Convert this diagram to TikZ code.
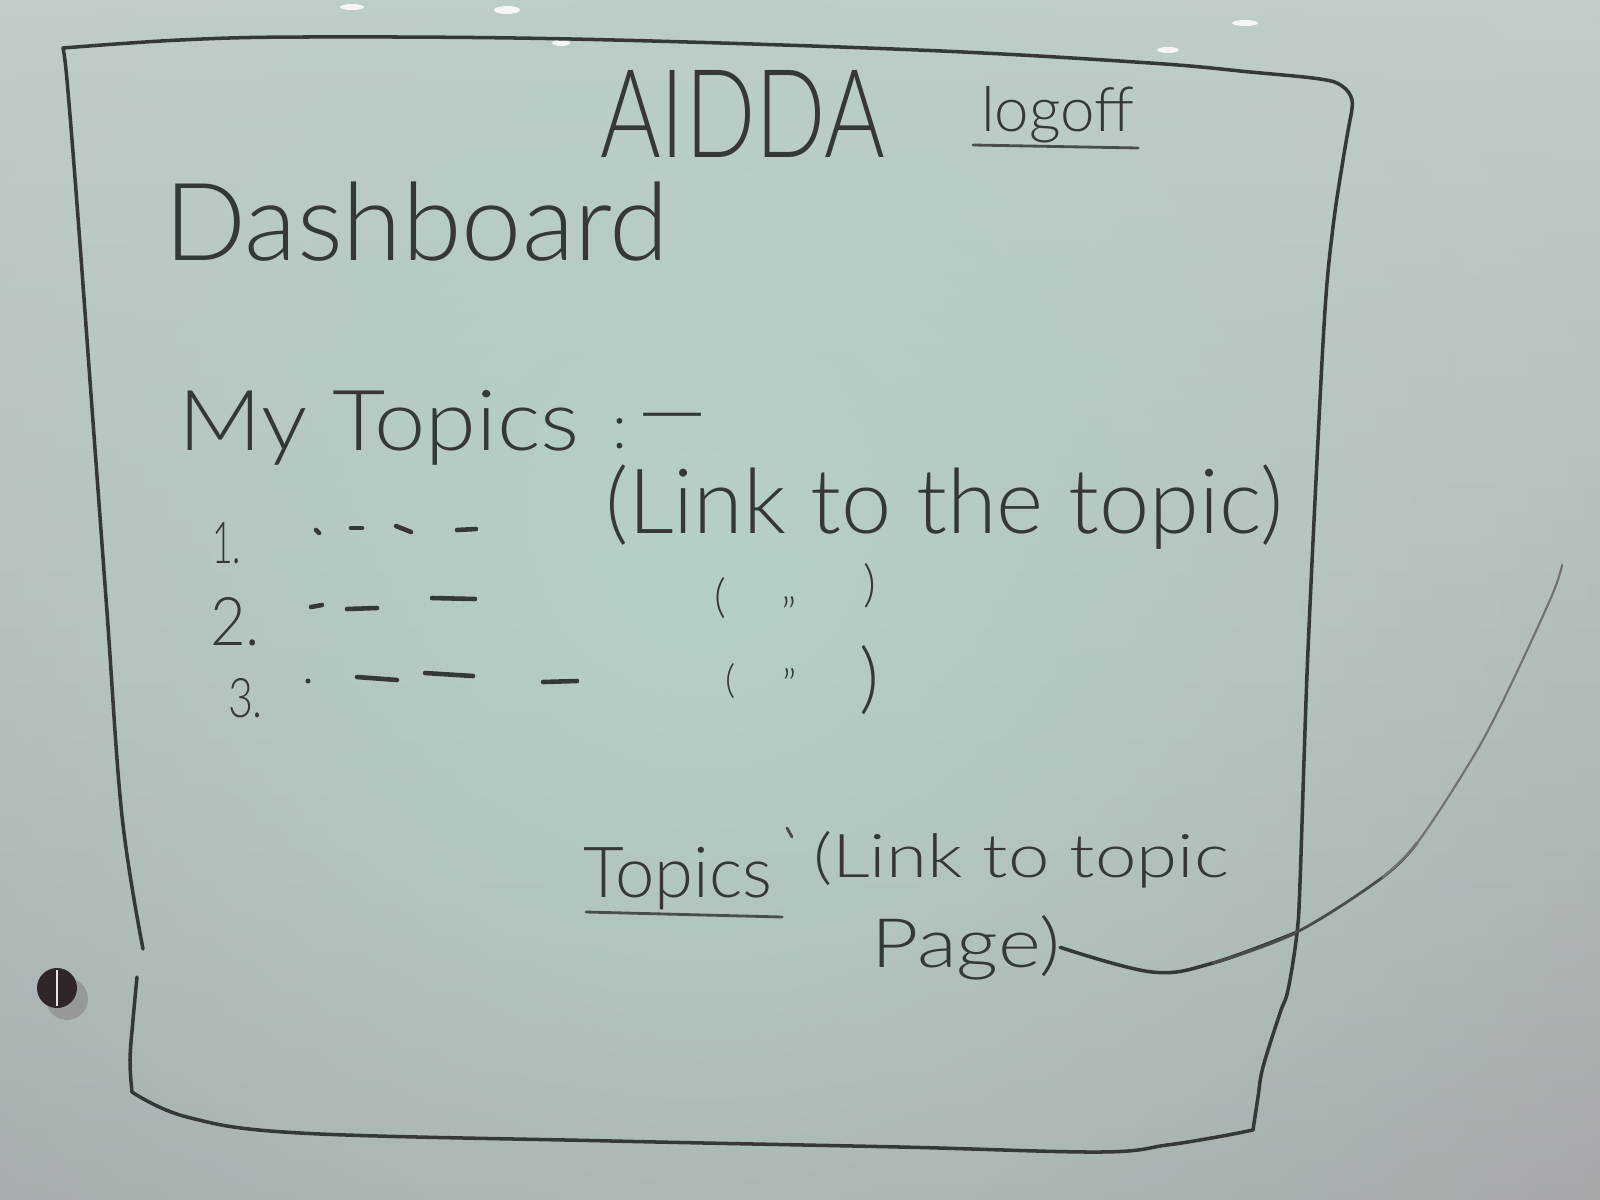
\documentclass[tikz,border=0pt]{standalone}
\usepackage{fontspec}
\setmainfont{Lato Light}
\usetikzlibrary{fadings}
\definecolor{inkc}{RGB}{52,56,57}
\definecolor{boardtop}{RGB}{198,203,203}
\definecolor{boardbot}{RGB}{162,160,166}
\definecolor{boardglow}{RGB}{182,207,201}
\definecolor{screwc}{RGB}{48,38,42}
\tikzfading[name=boardfade, inner color=transparent!0, outer color=transparent!100]
\tikzset{
  ink/.style={inner sep=0pt, outer sep=0pt, text=inkc, anchor=base west},
  inkmark/.style={inner sep=0pt, outer sep=0pt, text=inkc},
  pen/.style={draw=inkc, line width=1.0pt, line cap=round, line join=round},
  penthick/.style={draw=inkc, line width=1.3pt, line cap=round},
  penthin/.style={draw=inkc!80!boardbot, line width=0.8pt, line cap=round},
  pentrace/.style={draw=inkc!45!boardbot, line width=0.6pt, line cap=round},
  lamp/.style={fill=white, opacity=0.85},
}
\begin{document}
\begin{tikzpicture}[x=0.01cm, y=-0.01cm]
\useasboundingbox (0,0) rectangle (1600,1200);

% whiteboard surface
\shade[top color=boardtop, bottom color=boardbot] (0,0) rectangle (1600,1200);
\fill[boardglow, path fading=boardfade] (700,560) circle (1300);

% ceiling lights reflected on the board
\fill[lamp] (352,7) ellipse [x radius=12, y radius=3];
\fill[lamp] (507,10) ellipse [x radius=13, y radius=4];
\fill[lamp] (561,43) ellipse [x radius=9, y radius=3];
\fill[lamp] (1245,23) ellipse [x radius=13, y radius=3];
\fill[lamp] (1168,50) ellipse [x radius=11, y radius=3];

% mounting screw
\fill[gray!60!boardbot, opacity=0.7] (67,999) circle (21);
\fill[screwc] (57,988) circle (20);
\draw[white!80!gray, line width=0.5pt] (57,970) -- (57,1006);

% page frame
\draw[pen] plot[smooth, tension=0.6] coordinates {(143,949) (122,816) (107,612) (92,408) (77,204) (67,80) (63,48)}
  -- plot[smooth, tension=0.6] coordinates {(63,48) (180,40) (306,37) (571,39) (918,50) (1150,63) (1250,72) (1320,79) (1342,86) (1352,100) (1350,120)}
  -- plot[smooth, tension=0.6] coordinates {(1350,120) (1343,160) (1333,227) (1325,310) (1316,480) (1308,650) (1304,760) (1300,883) (1297,933) (1288,990) (1280,1013) (1263,1067) (1258,1097) (1253,1130)}
  -- plot[smooth, tension=0.6] coordinates {(1253,1130) (1217,1137) (1167,1145) (1100,1152) (900,1147) (612,1141) (300,1133) (187,1117) (132,1092)}
  -- plot[smooth, tension=0.6] coordinates {(132,1092) (130,1060) (133,1020) (137,977)};

% header
\node[ink] (title) at (600,157) {\resizebox{2.85cm}{0.87cm}{AIDDA}};
\node[ink] (logoff) at (981,132) {\resizebox{1.53cm}{0.45cm}{logoff}};
\draw[penthin] ([shift={(-8,13)}]logoff.base west) -- ([shift={(4,16)}]logoff.base east);

\node[ink] (board) at (164,260) {\resizebox{5.05cm}{!}{Dashboard}};

% my topics
\node[ink] (mytopics) at (179,450) {\resizebox{4.0cm}{0.6cm}{My Topics}};
\node[ink, anchor=base] (colon) at (620,448) {\resizebox{!}{0.3cm}{:}};
\node[inkmark] (rule) at (673,427) {\resizebox{0.7cm}{!}{—}};
\node[ink] (linktopic) at (605,533) {\resizebox{6.78cm}{!}{(Link to the topic)}};

\node[ink] (n1) at (212,563) {\resizebox{0.29cm}{0.41cm}{1.}};
\node[ink] (n2) at (210,645) {\resizebox{0.5cm}{0.48cm}{2.}};
\node[ink] (n3) at (228,717) {\resizebox{0.35cm}{0.39cm}{3.}};

% placeholder titles
\draw[penthick] (316,530) -- (319,533);
\draw[penthick] (351,528) -- (362,528);
\draw[penthick] (396,526) -- (411,532);
\draw[penthick] (457,530) -- (476,529);
\draw[penthick] (311,607) -- (322,605);
\draw[penthick] (347,609) -- (377,608);
\draw[penthick] (432,598) -- (475,599);
\fill[inkc] (308,681) circle (2.5);
\draw[penthick] (357,677) -- (397,680);
\draw[penthick] (425,673) -- (473,676);
\draw[penthick] (543,682) -- (577,681);

% ditto marks
\node[inkmark] (lp2) at (720,598) {\resizebox{!}{0.35cm}{(}};
\node[inkmark, anchor=north] (dq2) at (789,596) {\resizebox{!}{0.34cm}{"}};
\node[inkmark] (rp2) at (870,586) {\resizebox{!}{0.38cm}{)}};
\node[inkmark] (lp3) at (731,681) {\resizebox{!}{0.30cm}{(}};
\node[inkmark, anchor=north] (dq3) at (790,668) {\resizebox{!}{0.32cm}{"}};
\node[inkmark] (rp3) at (869,680) {\resizebox{!}{0.59cm}{)}};

% topics link
\node[ink] (topics) at (583,897) {\resizebox{1.89cm}{!}{Topics}};
\draw[penthin] ([shift={(3,15)}]topics.base west) -- ([shift={(10,20)}]topics.base east);
\draw[penthin] (787,828) -- (792,837);
\node[ink] (linkpage) at (813,877) {\resizebox{4.16cm}{0.46cm}{(Link to topic}};
\node[ink] (page) at (871,967) {\resizebox{1.89cm}{0.52cm}{Page)}};

% stroke running off the page
\coordinate (k1) at (1152,972);
\coordinate (k2) at (1213,963);
\coordinate (k3) at (1295,933);
\coordinate (k4) at (1383,877);
\coordinate (k5) at (1417,843);
\coordinate (k6) at (1467,767);
\coordinate (k7) at (1500,707);
\coordinate (k8) at (1550,600);
\coordinate (tail) at (1562,565);
\draw[pen] plot[smooth, tension=0.6] coordinates {(page.east) (k1) (k2) (k3)};
\draw[penthin] plot[smooth, tension=0.6] coordinates {(k2) (k3) (k4) (k5)};
\draw[pentrace] plot[smooth, tension=0.6] coordinates {(k4) (k5) (k6) (k7) (k8) (tail)};
\end{tikzpicture}
\end{document}
